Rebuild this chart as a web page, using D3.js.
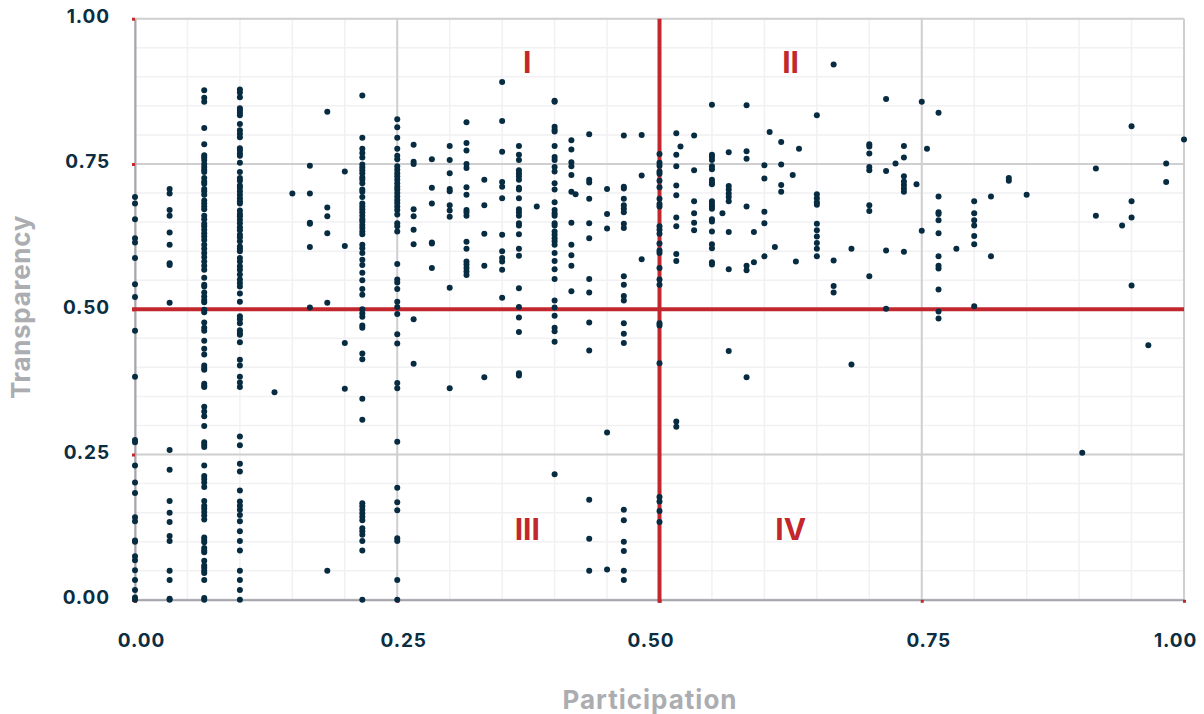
<!DOCTYPE html>
<html>
<head>
<meta charset="utf-8">
<script src="https://cdn.jsdelivr.net/npm/d3@7"></script>
<style>
html, body { margin: 0; padding: 0; background: #fff; }
svg { display: block; }
text { font-family: Inter, "Open Sans", sans-serif; }
</style>
</head>
<body>
<svg id="chart" width="1204" height="714"></svg>
<script>
const tickValues = [0, 0.25, 0.5, 0.75, 1];
const quadrantNames = ['I', 'II', 'III', 'IV'];
const quadrantSpots = [[0.374, 0.926], [0.625, 0.926], [0.374, 0.122], [0.625, 0.122]];
// the x tick labels are not centred on their ticks in the original
const xLabelShift = [6, 6, -9, 6.5, -9];

// participation value of each column of dots
const participation = [0, 0.033, 0.066, 0.1, 0.133, 0.15, 0.1667, 0.1833, 0.2, 0.2167, 0.25, 0.2656, 0.283, 0.3, 0.316, 0.333, 0.35, 0.366, 0.383, 0.4, 0.416, 0.42, 0.433, 0.45, 0.466, 0.483, 0.5, 0.516, 0.52, 0.533, 0.55, 0.56, 0.566, 0.583, 0.59, 0.6, 0.605, 0.61, 0.616, 0.627, 0.63, 0.633, 0.65, 0.666, 0.683, 0.7, 0.716, 0.725, 0.733, 0.745, 0.75, 0.755, 0.766, 0.783, 0.8, 0.816, 0.833, 0.85, 0.903, 0.916, 0.941, 0.95, 0.966, 0.983, 1];
// transparency values read for each column, same order
const transparency = [
  [0.693, 0.682, 0.655, 0.622, 0.615, 0.588, 0.543, 0.521, 0.463, 0.384, 0.275, 0.271, 0.231, 0.202, 0.184, 0.142, 0.135, 0.102, 0.1, 0.075, 0.068, 0.051, 0.034, 0.017, 0.004, 0],
  [0.707, 0.699, 0.671, 0.661, 0.632, 0.611, 0.579, 0.576, 0.511, 0.258, 0.224, 0.17, 0.15, 0.134, 0.11, 0.101, 0.05, 0.034, 0, 0.002],
  [0.877, 0.864, 0.857, 0.812, 0.784, 0.765, 0.761, 0.757, 0.75, 0.745, 0.74, 0.736, 0.726, 0.72, 0.716, 0.707, 0.703, 0.697, 0.687, 0.682, 0.677, 0.672, 0.661, 0.655, 0.647, 0.643, 0.637, 0.631, 0.625, 0.619, 0.611, 0.604, 0.597, 0.59, 0.582, 0.575, 0.568, 0.554, 0.542, 0.539, 0.529, 0.522, 0.516, 0.512, 0.499, 0.495, 0.477, 0.468, 0.463, 0.446, 0.432, 0.422, 0.403, 0.399, 0.396, 0.372, 0.368, 0.366, 0.332, 0.324, 0.316, 0.299, 0.271, 0.267, 0.263, 0.231, 0.213, 0.208, 0.202, 0.194, 0.17, 0.162, 0.157, 0.151, 0.145, 0.138, 0.107, 0.103, 0.099, 0.089, 0.085, 0.082, 0.067, 0.059, 0.055, 0.05, 0.046, 0.034, 0.003, 0],
  [0.878, 0.873, 0.865, 0.846, 0.842, 0.838, 0.834, 0.819, 0.808, 0.802, 0.796, 0.777, 0.773, 0.768, 0.764, 0.752, 0.736, 0.726, 0.721, 0.713, 0.709, 0.703, 0.697, 0.691, 0.686, 0.682, 0.67, 0.664, 0.66, 0.654, 0.648, 0.641, 0.636, 0.628, 0.624, 0.617, 0.608, 0.604, 0.6, 0.588, 0.582, 0.574, 0.568, 0.56, 0.551, 0.545, 0.539, 0.527, 0.513, 0.488, 0.483, 0.476, 0.464, 0.459, 0.456, 0.443, 0.413, 0.403, 0.384, 0.374, 0.366, 0.281, 0.266, 0.234, 0.221, 0.188, 0.169, 0.162, 0.155, 0.146, 0.135, 0.118, 0.101, 0.085, 0.05, 0.034, 0.017, 0],
  [0.357],
  [0.699],
  [0.747, 0.699, 0.649, 0.647, 0.607, 0.503],
  [0.84, 0.675, 0.66, 0.631, 0.511, 0.05],
  [0.737, 0.609, 0.442, 0.363],
  [0.868, 0.795, 0.776, 0.769, 0.761, 0.749, 0.744, 0.739, 0.734, 0.727, 0.723, 0.717, 0.706, 0.702, 0.693, 0.682, 0.677, 0.672, 0.667, 0.661, 0.655, 0.651, 0.645, 0.64, 0.634, 0.629, 0.611, 0.605, 0.597, 0.585, 0.576, 0.563, 0.55, 0.535, 0.525, 0.5, 0.493, 0.487, 0.472, 0.468, 0.424, 0.414, 0.346, 0.31, 0.166, 0.161, 0.155, 0.149, 0.143, 0.137, 0.123, 0.118, 0.112, 0.101, 0.085, 0],
  [0.827, 0.813, 0.795, 0.776, 0.764, 0.758, 0.746, 0.74, 0.734, 0.729, 0.723, 0.717, 0.711, 0.706, 0.7, 0.694, 0.688, 0.683, 0.677, 0.671, 0.663, 0.648, 0.643, 0.634, 0.578, 0.551, 0.546, 0.535, 0.513, 0.504, 0.492, 0.457, 0.441, 0.373, 0.364, 0.272, 0.193, 0.168, 0.154, 0.106, 0.101, 0.034, 0],
  [0.783, 0.754, 0.75, 0.672, 0.66, 0.637, 0.612, 0.483, 0.406],
  [0.758, 0.709, 0.682, 0.615, 0.613, 0.571],
  [0.781, 0.757, 0.734, 0.707, 0.703, 0.679, 0.67, 0.659, 0.537, 0.364],
  [0.822, 0.786, 0.773, 0.75, 0.743, 0.71, 0.697, 0.671, 0.667, 0.661, 0.616, 0.604, 0.582, 0.577, 0.571, 0.565, 0.559],
  [0.723, 0.679, 0.63, 0.575, 0.383],
  [0.891, 0.824, 0.771, 0.719, 0.711, 0.691, 0.628, 0.6, 0.588, 0.582, 0.568, 0.52],
  [0.781, 0.766, 0.757, 0.739, 0.734, 0.729, 0.723, 0.709, 0.706, 0.691, 0.672, 0.667, 0.661, 0.648, 0.644, 0.629, 0.604, 0.592, 0.536, 0.504, 0.486, 0.461, 0.39, 0.386],
  [0.677],
  [0.859, 0.857, 0.814, 0.809, 0.806, 0.781, 0.762, 0.757, 0.745, 0.737, 0.717, 0.706, 0.684, 0.671, 0.665, 0.661, 0.648, 0.644, 0.634, 0.628, 0.622, 0.617, 0.611, 0.597, 0.583, 0.569, 0.552, 0.515, 0.503, 0.489, 0.468, 0.462, 0.444, 0.216],
  [0.791, 0.775, 0.753, 0.746, 0.731, 0.702, 0.649, 0.611, 0.593, 0.575, 0.531],
  [0.698],
  [0.801, 0.723, 0.718, 0.69, 0.648, 0.622, 0.552, 0.529, 0.477, 0.429, 0.172, 0.105, 0.05],
  [0.707, 0.664, 0.639, 0.288, 0.052],
  [0.799, 0.711, 0.708, 0.69, 0.679, 0.673, 0.667, 0.647, 0.64, 0.557, 0.542, 0.523, 0.515, 0.476, 0.458, 0.442, 0.155, 0.137, 0.1, 0.084, 0.05, 0.034],
  [0.8, 0.73, 0.586],
  [0.767, 0.752, 0.747, 0.737, 0.733, 0.721, 0.71, 0.69, 0.681, 0.677, 0.643, 0.637, 0.63, 0.613, 0.601, 0.597, 0.571, 0.551, 0.542, 0.476, 0.472, 0.407, 0.177, 0.169, 0.153, 0.134],
  [0.803, 0.766, 0.746, 0.713, 0.696, 0.658, 0.643, 0.595, 0.583, 0.307, 0.298],
  [0.78],
  [0.799, 0.739, 0.686, 0.665, 0.649, 0.636],
  [0.852, 0.766, 0.762, 0.757, 0.746, 0.741, 0.723, 0.718, 0.715, 0.686, 0.681, 0.677, 0.673, 0.655, 0.651, 0.634, 0.612, 0.605, 0.581, 0.577],
  [0.665],
  [0.77, 0.712, 0.706, 0.699, 0.693, 0.686, 0.633, 0.569, 0.428],
  [0.851, 0.772, 0.759, 0.677, 0.575, 0.567, 0.383],
  [0.633, 0.581],
  [0.748, 0.725, 0.668, 0.648, 0.591],
  [0.805],
  [0.607],
  [0.788, 0.749, 0.714, 0.702],
  [0.731],
  [0.582],
  [0.776],
  [0.834, 0.698, 0.691, 0.684, 0.68, 0.647, 0.636, 0.625, 0.614, 0.604, 0.591],
  [0.921, 0.584, 0.54, 0.529],
  [0.604, 0.405],
  [0.784, 0.78, 0.768, 0.745, 0.739, 0.679, 0.669, 0.557],
  [0.862, 0.738, 0.601, 0.501],
  [0.751],
  [0.781, 0.761, 0.729, 0.72, 0.714, 0.708, 0.702, 0.599],
  [0.715],
  [0.857, 0.635],
  [0.776],
  [0.838, 0.694, 0.667, 0.664, 0.653, 0.631, 0.591, 0.575, 0.57, 0.534, 0.496, 0.484],
  [0.604],
  [0.686, 0.665, 0.653, 0.644, 0.626, 0.612, 0.505],
  [0.694, 0.591],
  [0.726, 0.721],
  [0.697],
  [0.253],
  [0.742, 0.661],
  [0.644],
  [0.815, 0.686, 0.658, 0.541],
  [0.438],
  [0.751, 0.719],
  [0.792]
];

const svg = d3.select('#chart');
const xScale = d3.scaleLinear().domain([0, 1]).range([135, 1184]);
const yScale = d3.scaleLinear().domain([0, 1]).range([599.8, 18.7]);
const format = d3.format('.2f');

// minor grid first, then major
const grid = svg.append('g');
grid.selectAll('.vminor').data(xScale.ticks(20)).enter().append('line')
  .attr('x1', d => xScale(d)).attr('x2', d => xScale(d))
  .attr('y1', yScale(0)).attr('y2', yScale(1))
  .attr('stroke', '#f1f1f3').attr('stroke-width', 1.5);
grid.selectAll('.hminor').data(yScale.ticks(20)).enter().append('line')
  .attr('x1', xScale(0)).attr('x2', xScale(1))
  .attr('y1', d => yScale(d)).attr('y2', d => yScale(d))
  .attr('stroke', '#f1f1f3').attr('stroke-width', 1.5);
grid.selectAll('.vmajor').data(tickValues).enter().append('line')
  .attr('x1', d => xScale(d)).attr('x2', d => xScale(d))
  .attr('y1', yScale(0)).attr('y2', yScale(1))
  .attr('stroke', '#cfcfd1').attr('stroke-width', 2);
grid.selectAll('.hmajor').data(tickValues).enter().append('line')
  .attr('x1', xScale(0)).attr('x2', xScale(1))
  .attr('y1', d => yScale(d)).attr('y2', d => yScale(d))
  .attr('stroke', '#cfcfd1').attr('stroke-width', 2);

const xAxis = svg.append('g').attr('transform', 'translate(0,' + yScale(0) + ')')
  .call(d3.axisBottom(xScale).tickValues(tickValues).tickFormat(format).tickSize(3).tickSizeOuter(0));
const yAxis = svg.append('g').attr('transform', 'translate(' + xScale(0) + ',0)')
  .call(d3.axisLeft(yScale).tickValues(tickValues).tickFormat(format).tickSize(3).tickSizeOuter(0));
[xAxis, yAxis].forEach(axis => {
  axis.select('.domain').attr('stroke', '#a5a5ab').attr('stroke-width', 2);
  axis.selectAll('.tick line').attr('stroke', '#c1272d').attr('stroke-width', 3);
  axis.selectAll('text').attr('fill', '#0b2e42')
    .style('font-size', '19px').style('font-weight', 700).style('letter-spacing', '0.9px')
    .style('font-family', 'Inter, sans-serif');
});
xAxis.selectAll('text').attr('x', (d, i) => xLabelShift[i]).attr('y', 47).attr('dy', 0);
yAxis.selectAll('text').attr('x', -25).attr('y', 4).attr('dy', 0);

// quadrant dividers
svg.append('line').attr('x1', xScale(0) - 3).attr('x2', xScale(1))
  .attr('y1', yScale(0.5)).attr('y2', yScale(0.5))
  .attr('stroke', '#c1272d').attr('stroke-width', 4);
svg.append('line').attr('x1', xScale(0.5)).attr('x2', xScale(0.5))
  .attr('y1', yScale(1)).attr('y2', yScale(0) + 3)
  .attr('stroke', '#c1272d').attr('stroke-width', 4);

// one point per (participation, transparency) pair
const points = d3.merge(participation.map((p, i) => transparency[i].map(t => ({ p: p, t: t }))));
svg.append('g').selectAll('circle').data(points).enter().append('circle')
  .attr('cx', d => xScale(d.p))
  .attr('cy', d => yScale(d.t))
  .attr('r', 3)
  .attr('fill', '#072c42');

svg.append('g').selectAll('text').data(quadrantNames).enter().append('text')
  .text(d => d)
  .attr('x', (d, i) => xScale(quadrantSpots[i][0]))
  .attr('y', (d, i) => yScale(quadrantSpots[i][1]))
  .attr('text-anchor', 'middle')
  .attr('dominant-baseline', 'central')
  .attr('fill', '#c1272d')
  .style('font-size', '30px')
  .style('font-weight', 700);

svg.append('text').text('Participation')
  .attr('x', 650).attr('y', 709)
  .attr('text-anchor', 'middle')
  .attr('fill', '#acadb1')
  .style('font-size', '26px').style('font-weight', 700).style('letter-spacing', '1px');
svg.append('text').text('Transparency')
  .attr('transform', 'translate(30,307) rotate(-90)')
  .attr('text-anchor', 'middle')
  .attr('fill', '#acadb1')
  .style('font-size', '26px').style('font-weight', 700).style('letter-spacing', '0.7px');
</script>
</body>
</html>
